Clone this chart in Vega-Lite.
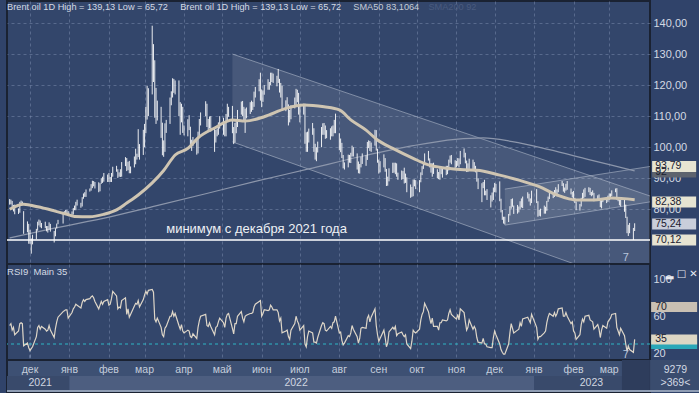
{
"$schema":"https://vega.github.io/schema/vega-lite/v6.json",
"background":"#30436a",
"padding":{"left":2,"top":0,"right":0,"bottom":0},
"spacing":0,
"bounds":"flush",
"resolve":{"scale":{"color":"independent"}},
"config":{"view":{"fill":"#33466b","stroke":"#1a2232","strokeWidth":2},"font":"Liberation Sans","text":{"font":"Liberation Sans"}},
"datasets":{
"px":[
{"t":"2021-11-15","h":83.3,"l":81.5,"r":50},{"t":"2021-11-16","h":83.1,"l":81.6,"r":52},{"t":"2021-11-17","h":82.7,"l":80.2,"r":45},{"t":"2021-11-18","h":81.4,"l":79.3,"r":48},{"t":"2021-11-19","h":81.5,"l":78.4,"r":40},
{"t":"2021-11-22","h":80.3,"l":78.5,"r":44},{"t":"2021-11-23","h":82.4,"l":78.9,"r":52},{"t":"2021-11-24","h":82.8,"l":81.3,"r":53},{"t":"2021-11-25","h":82.5,"l":81.5,"r":52},{"t":"2021-11-26","h":79.4,"l":72.1,"r":28},
{"t":"2021-11-29","h":76.1,"l":72.6,"r":31},{"t":"2021-11-30","h":75.3,"l":68.9,"r":26},{"t":"2021-12-01","h":73.4,"l":68.9,"r":23},{"t":"2021-12-02","h":70.6,"l":65.72,"r":25},{"t":"2021-12-03","h":71.8,"l":68.7,"r":27},
{"t":"2021-12-06","h":73.7,"l":70.3,"r":38},{"t":"2021-12-07","h":76.0,"l":73.1,"r":48},{"t":"2021-12-08","h":76.7,"l":74.8,"r":50},{"t":"2021-12-09","h":76.4,"l":74.2,"r":46},{"t":"2021-12-10","h":75.6,"l":73.9,"r":49},
{"t":"2021-12-13","h":76.0,"l":73.9,"r":46},{"t":"2021-12-14","h":74.6,"l":72.9,"r":44},{"t":"2021-12-15","h":74.6,"l":72.5,"r":45},{"t":"2021-12-16","h":75.8,"l":73.4,"r":50},{"t":"2021-12-17","h":75.3,"l":72.8,"r":45},
{"t":"2021-12-20","h":73.0,"l":69.3,"r":37},{"t":"2021-12-21","h":73.9,"l":71.3,"r":47},{"t":"2021-12-22","h":75.4,"l":73.8,"r":54},{"t":"2021-12-23","h":76.6,"l":75.2,"r":59},
{"t":"2021-12-27","h":78.9,"l":75.4,"r":65},{"t":"2021-12-28","h":79.4,"l":78.3,"r":66},{"t":"2021-12-29","h":79.8,"l":78.4,"r":67},{"t":"2021-12-30","h":79.8,"l":78.6,"r":67},{"t":"2021-12-31","h":79.4,"l":77.8,"r":58},
{"t":"2022-01-03","h":79.3,"l":77.7,"r":64},{"t":"2022-01-04","h":80.4,"l":78.3,"r":68},{"t":"2022-01-05","h":81.2,"l":79.7,"r":70},{"t":"2022-01-06","h":82.4,"l":79.7,"r":73},{"t":"2022-01-07","h":83.1,"l":81.2,"r":72},
{"t":"2022-01-10","h":82.1,"l":80.5,"r":69},{"t":"2022-01-11","h":83.9,"l":80.9,"r":75},{"t":"2022-01-12","h":85.1,"l":83.4,"r":78},{"t":"2022-01-13","h":85.5,"l":84.0,"r":76},{"t":"2022-01-14","h":86.4,"l":84.0,"r":78},
{"t":"2022-01-17","h":86.7,"l":85.7,"r":79},{"t":"2022-01-18","h":88.1,"l":86.0,"r":81},{"t":"2022-01-19","h":89.2,"l":86.8,"r":82},{"t":"2022-01-20","h":89.1,"l":87.4,"r":80},{"t":"2022-01-21","h":88.8,"l":86.7,"r":76},
{"t":"2022-01-24","h":88.7,"l":85.5,"r":68},{"t":"2022-01-25","h":88.4,"l":85.8,"r":72},{"t":"2022-01-26","h":90.0,"l":88.2,"r":76},{"t":"2022-01-27","h":90.5,"l":88.5,"r":73},{"t":"2022-01-28","h":91.7,"l":88.9,"r":76},
{"t":"2022-01-31","h":91.2,"l":88.8,"r":78},{"t":"2022-02-01","h":91.7,"l":88.8,"r":72},{"t":"2022-02-02","h":90.4,"l":88.8,"r":73},{"t":"2022-02-03","h":91.7,"l":88.8,"r":79},{"t":"2022-02-04","h":93.7,"l":90.5,"r":87},
{"t":"2022-02-07","h":94.0,"l":92.1,"r":82},{"t":"2022-02-08","h":92.9,"l":90.1,"r":68},{"t":"2022-02-09","h":91.9,"l":90.5,"r":70},{"t":"2022-02-10","h":92.9,"l":90.4,"r":69},{"t":"2022-02-11","h":95.2,"l":90.5,"r":77},
{"t":"2022-02-14","h":96.8,"l":93.9,"r":80},{"t":"2022-02-15","h":96.5,"l":92.3,"r":62},{"t":"2022-02-16","h":95.3,"l":92.6,"r":68},{"t":"2022-02-17","h":95.6,"l":91.6,"r":59},{"t":"2022-02-18","h":93.8,"l":91.6,"r":62},
{"t":"2022-02-21","h":97.0,"l":93.5,"r":71},{"t":"2022-02-22","h":99.5,"l":94.5,"r":74},{"t":"2022-02-23","h":97.9,"l":96.0,"r":73},{"t":"2022-02-24","h":105.8,"l":96.8,"r":77},{"t":"2022-02-25","h":101.0,"l":96.0,"r":70},
{"t":"2022-02-28","h":105.6,"l":97.5,"r":78},{"t":"2022-03-01","h":107.5,"l":100.0,"r":83},{"t":"2022-03-02","h":113.0,"l":104.5,"r":87},{"t":"2022-03-03","h":119.8,"l":108.9,"r":84},{"t":"2022-03-04","h":119.0,"l":110.0,"r":88},
{"t":"2022-03-07","h":139.13,"l":117.0,"r":89},{"t":"2022-03-08","h":133.2,"l":121.0,"r":86},{"t":"2022-03-09","h":128.0,"l":109.5,"r":57},{"t":"2022-03-10","h":119.1,"l":107.5,"r":54},{"t":"2022-03-11","h":115.0,"l":108.6,"r":58},
{"t":"2022-03-14","h":113.0,"l":103.0,"r":48},{"t":"2022-03-15","h":107.9,"l":97.4,"r":40},{"t":"2022-03-16","h":102.2,"l":96.9,"r":38},{"t":"2022-03-17","h":107.7,"l":98.5,"r":47},{"t":"2022-03-18","h":108.8,"l":104.6,"r":49},
{"t":"2022-03-21","h":116.0,"l":107.5,"r":60},{"t":"2022-03-22","h":118.0,"l":113.5,"r":60},{"t":"2022-03-23","h":122.2,"l":116.0,"r":65},{"t":"2022-03-24","h":122.0,"l":117.5,"r":60},{"t":"2022-03-25","h":121.5,"l":117.0,"r":63},
{"t":"2022-03-28","h":121.5,"l":110.0,"r":50},{"t":"2022-03-29","h":114.5,"l":104.0,"r":46},{"t":"2022-03-30","h":114.0,"l":108.0,"r":51},{"t":"2022-03-31","h":113.0,"l":104.6,"r":44},{"t":"2022-04-01","h":107.0,"l":103.8,"r":42},
{"t":"2022-04-04","h":109.0,"l":103.5,"r":45},{"t":"2022-04-05","h":110.3,"l":105.5,"r":44},{"t":"2022-04-06","h":106.6,"l":100.2,"r":38},{"t":"2022-04-07","h":102.4,"l":98.8,"r":37},{"t":"2022-04-08","h":103.3,"l":100.3,"r":41},
{"t":"2022-04-11","h":103.0,"l":97.6,"r":36},{"t":"2022-04-12","h":105.0,"l":98.0,"r":48},{"t":"2022-04-13","h":109.1,"l":103.5,"r":55},{"t":"2022-04-14","h":111.2,"l":107.0,"r":60},
{"t":"2022-04-18","h":114.8,"l":110.0,"r":62},{"t":"2022-04-19","h":114.0,"l":106.5,"r":50},{"t":"2022-04-20","h":109.1,"l":105.1,"r":49},{"t":"2022-04-21","h":109.9,"l":106.0,"r":53},{"t":"2022-04-22","h":110.0,"l":105.0,"r":49},
{"t":"2022-04-25","h":106.0,"l":98.5,"r":40},{"t":"2022-04-26","h":105.6,"l":101.5,"r":48},{"t":"2022-04-27","h":106.0,"l":103.5,"r":49},{"t":"2022-04-28","h":108.0,"l":104.0,"r":54},{"t":"2022-04-29","h":110.0,"l":106.0,"r":58},
{"t":"2022-05-02","h":109.5,"l":104.0,"r":53},{"t":"2022-05-03","h":108.0,"l":103.5,"r":48},{"t":"2022-05-04","h":110.7,"l":103.5,"r":58},{"t":"2022-05-05","h":114.0,"l":108.5,"r":62},{"t":"2022-05-06","h":113.0,"l":109.8,"r":63},
{"t":"2022-05-09","h":113.3,"l":104.5,"r":47},{"t":"2022-05-10","h":106.5,"l":101.0,"r":41},{"t":"2022-05-11","h":107.8,"l":101.5,"r":52},{"t":"2022-05-12","h":108.5,"l":104.5,"r":52},{"t":"2022-05-13","h":112.0,"l":106.5,"r":60},
{"t":"2022-05-16","h":114.7,"l":110.5,"r":65},{"t":"2022-05-17","h":114.9,"l":110.0,"r":58},{"t":"2022-05-18","h":113.0,"l":108.5,"r":54},{"t":"2022-05-19","h":112.4,"l":104.6,"r":60},{"t":"2022-05-20","h":112.8,"l":109.3,"r":61},
{"t":"2022-05-23","h":114.5,"l":110.7,"r":63},{"t":"2022-05-24","h":115.0,"l":111.4,"r":63},{"t":"2022-05-25","h":114.6,"l":112.0,"r":64},{"t":"2022-05-26","h":117.9,"l":113.0,"r":70},{"t":"2022-05-27","h":119.4,"l":116.0,"r":73},
{"t":"2022-05-30","h":121.9,"l":118.0,"r":76},{"t":"2022-05-31","h":124.0,"l":115.0,"r":77},{"t":"2022-06-01","h":118.6,"l":112.9,"r":60},{"t":"2022-06-02","h":118.3,"l":114.6,"r":63},{"t":"2022-06-03","h":120.0,"l":116.9,"r":67},
{"t":"2022-06-06","h":121.9,"l":118.5,"r":66},{"t":"2022-06-07","h":121.0,"l":118.5,"r":67},{"t":"2022-06-08","h":124.0,"l":120.0,"r":72},{"t":"2022-06-09","h":124.0,"l":121.0,"r":70},{"t":"2022-06-10","h":123.7,"l":120.7,"r":67},
{"t":"2022-06-13","h":123.0,"l":119.6,"r":67},{"t":"2022-06-14","h":125.2,"l":120.7,"r":64},{"t":"2022-06-15","h":122.0,"l":117.6,"r":55},{"t":"2022-06-16","h":120.7,"l":116.0,"r":58},{"t":"2022-06-17","h":119.8,"l":112.1,"r":42},
{"t":"2022-06-20","h":115.1,"l":111.6,"r":44},{"t":"2022-06-21","h":116.1,"l":112.8,"r":45},{"t":"2022-06-22","h":113.8,"l":107.0,"r":38},{"t":"2022-06-23","h":112.0,"l":108.0,"r":35},{"t":"2022-06-24","h":113.5,"l":109.0,"r":45},
{"t":"2022-06-27","h":116.0,"l":112.5,"r":52},{"t":"2022-06-28","h":118.8,"l":113.5,"r":60},{"t":"2022-06-29","h":118.5,"l":114.5,"r":55},{"t":"2022-06-30","h":117.5,"l":110.5,"r":52},{"t":"2022-07-01","h":113.5,"l":108.0,"r":45},
{"t":"2022-07-04","h":114.0,"l":110.5,"r":50},{"t":"2022-07-05","h":114.0,"l":101.1,"r":30},{"t":"2022-07-06","h":104.8,"l":98.5,"r":27},{"t":"2022-07-07","h":105.0,"l":98.5,"r":38},{"t":"2022-07-08","h":106.0,"l":101.5,"r":44},
{"t":"2022-07-11","h":107.8,"l":104.0,"r":42},{"t":"2022-07-12","h":106.1,"l":98.5,"r":32},{"t":"2022-07-13","h":101.1,"l":96.0,"r":32},{"t":"2022-07-14","h":100.0,"l":95.5,"r":31},{"t":"2022-07-15","h":101.8,"l":98.3,"r":37},
{"t":"2022-07-18","h":106.5,"l":100.0,"r":50},{"t":"2022-07-19","h":107.7,"l":104.0,"r":53},{"t":"2022-07-20","h":107.8,"l":104.0,"r":52},{"t":"2022-07-21","h":107.0,"l":102.7,"r":45},{"t":"2022-07-22","h":105.5,"l":102.9,"r":44},
{"t":"2022-07-25","h":106.1,"l":102.4,"r":49},{"t":"2022-07-26","h":106.7,"l":103.5,"r":47},{"t":"2022-07-27","h":107.0,"l":103.5,"r":53},{"t":"2022-07-28","h":108.8,"l":104.5,"r":54},{"t":"2022-07-29","h":110.8,"l":104.5,"r":60},
{"t":"2022-08-01","h":104.5,"l":99.0,"r":42},{"t":"2022-08-02","h":102.8,"l":98.4,"r":43},{"t":"2022-08-03","h":101.4,"l":96.5,"r":34},{"t":"2022-08-04","h":97.5,"l":93.2,"r":29},{"t":"2022-08-05","h":95.1,"l":92.8,"r":31},
{"t":"2022-08-08","h":97.6,"l":93.5,"r":39},{"t":"2022-08-09","h":97.5,"l":95.0,"r":38},{"t":"2022-08-10","h":98.2,"l":94.9,"r":42},{"t":"2022-08-11","h":100.5,"l":97.0,"r":50},{"t":"2022-08-12","h":100.0,"l":97.0,"r":46},
{"t":"2022-08-15","h":98.0,"l":92.8,"r":38},{"t":"2022-08-16","h":95.4,"l":91.6,"r":31},{"t":"2022-08-17","h":94.6,"l":91.5,"r":36},{"t":"2022-08-18","h":96.9,"l":93.5,"r":47},{"t":"2022-08-19","h":98.0,"l":94.6,"r":48},
{"t":"2022-08-22","h":97.4,"l":94.0,"r":47},{"t":"2022-08-23","h":101.7,"l":95.9,"r":58},{"t":"2022-08-24","h":102.2,"l":99.7,"r":61},{"t":"2022-08-25","h":102.0,"l":98.8,"r":54},{"t":"2022-08-26","h":101.5,"l":98.5,"r":59},
{"t":"2022-08-29","h":105.6,"l":100.5,"r":68},{"t":"2022-08-30","h":105.5,"l":98.9,"r":50},{"t":"2022-08-31","h":99.5,"l":95.0,"r":40},{"t":"2022-09-01","h":96.0,"l":91.5,"r":33},{"t":"2022-09-02","h":95.5,"l":91.9,"r":36},
{"t":"2022-09-05","h":97.7,"l":93.5,"r":45},{"t":"2022-09-06","h":96.5,"l":92.1,"r":37},{"t":"2022-09-07","h":93.0,"l":87.5,"r":27},{"t":"2022-09-08","h":90.5,"l":87.6,"r":31},{"t":"2022-09-09","h":93.2,"l":89.0,"r":43},
{"t":"2022-09-12","h":95.0,"l":91.7,"r":48},{"t":"2022-09-13","h":95.0,"l":91.8,"r":46},{"t":"2022-09-14","h":95.0,"l":91.3,"r":49},{"t":"2022-09-15","h":94.8,"l":90.5,"r":39},{"t":"2022-09-16","h":91.8,"l":89.5,"r":41},
{"t":"2022-09-19","h":92.5,"l":89.5,"r":43},{"t":"2022-09-20","h":92.3,"l":89.8,"r":40},{"t":"2022-09-21","h":93.4,"l":88.3,"r":38},{"t":"2022-09-22","h":91.5,"l":88.5,"r":40},{"t":"2022-09-23","h":90.3,"l":85.5,"r":30},
{"t":"2022-09-26","h":88.0,"l":83.7,"r":25},{"t":"2022-09-27","h":87.2,"l":84.0,"r":33},{"t":"2022-09-28","h":89.6,"l":84.2,"r":45},{"t":"2022-09-29","h":89.6,"l":87.4,"r":43},{"t":"2022-09-30","h":89.4,"l":86.5,"r":42},
{"t":"2022-10-03","h":89.4,"l":85.5,"r":46},{"t":"2022-10-04","h":91.9,"l":88.7,"r":56},{"t":"2022-10-05","h":93.9,"l":91.0,"r":62},{"t":"2022-10-06","h":94.9,"l":93.0,"r":65},{"t":"2022-10-07","h":98.0,"l":94.2,"r":74},
{"t":"2022-10-10","h":98.8,"l":95.7,"r":65},{"t":"2022-10-11","h":96.4,"l":93.5,"r":58},{"t":"2022-10-12","h":94.9,"l":91.8,"r":52},{"t":"2022-10-13","h":94.8,"l":90.5,"r":58},{"t":"2022-10-14","h":95.0,"l":91.4,"r":49},
{"t":"2022-10-17","h":92.9,"l":90.0,"r":49},{"t":"2022-10-18","h":92.0,"l":89.7,"r":45},{"t":"2022-10-19","h":93.4,"l":89.5,"r":53},{"t":"2022-10-20","h":93.2,"l":91.3,"r":53},{"t":"2022-10-21","h":93.6,"l":90.2,"r":56},
{"t":"2022-10-24","h":94.0,"l":91.0,"r":55},{"t":"2022-10-25","h":94.0,"l":91.3,"r":56},{"t":"2022-10-26","h":96.0,"l":92.5,"r":63},{"t":"2022-10-27","h":97.3,"l":95.0,"r":67},{"t":"2022-10-28","h":97.5,"l":94.5,"r":62},
{"t":"2022-10-31","h":95.8,"l":93.0,"r":58},{"t":"2022-11-01","h":95.6,"l":93.5,"r":57},{"t":"2022-11-02","h":96.5,"l":94.0,"r":62},{"t":"2022-11-03","h":96.4,"l":93.5,"r":56},{"t":"2022-11-04","h":98.8,"l":94.5,"r":68},
{"t":"2022-11-07","h":99.6,"l":96.7,"r":64},{"t":"2022-11-08","h":98.2,"l":94.8,"r":54},{"t":"2022-11-09","h":95.7,"l":92.0,"r":45},{"t":"2022-11-10","h":94.8,"l":92.0,"r":48},{"t":"2022-11-11","h":96.3,"l":93.0,"r":56},
{"t":"2022-11-14","h":96.0,"l":92.5,"r":46},{"t":"2022-11-15","h":95.2,"l":92.2,"r":49},{"t":"2022-11-16","h":94.0,"l":91.9,"r":46},{"t":"2022-11-17","h":92.9,"l":88.9,"r":37},{"t":"2022-11-18","h":90.0,"l":86.5,"r":32},
{"t":"2022-11-21","h":88.4,"l":82.3,"r":31},{"t":"2022-11-22","h":88.8,"l":86.8,"r":36},{"t":"2022-11-23","h":89.5,"l":84.5,"r":30},{"t":"2022-11-24","h":86.0,"l":84.5,"r":30},{"t":"2022-11-25","h":86.5,"l":83.0,"r":27},
{"t":"2022-11-28","h":84.5,"l":80.6,"r":26},{"t":"2022-11-29","h":85.4,"l":82.5,"r":26},{"t":"2022-11-30","h":87.0,"l":83.0,"r":37},{"t":"2022-12-01","h":88.5,"l":85.5,"r":44},{"t":"2022-12-02","h":88.2,"l":85.4,"r":40},
{"t":"2022-12-05","h":89.0,"l":82.6,"r":30},{"t":"2022-12-06","h":83.4,"l":79.0,"r":24},{"t":"2022-12-07","h":79.8,"l":76.6,"r":21},{"t":"2022-12-08","h":77.6,"l":75.4,"r":19},{"t":"2022-12-09","h":77.6,"l":75.1,"r":19},
{"t":"2022-12-12","h":78.5,"l":75.9,"r":30},{"t":"2022-12-13","h":81.0,"l":78.0,"r":42},{"t":"2022-12-14","h":83.3,"l":80.2,"r":52},{"t":"2022-12-15","h":83.5,"l":80.8,"r":47},{"t":"2022-12-16","h":81.2,"l":78.5,"r":42},
{"t":"2022-12-19","h":81.4,"l":78.6,"r":45},{"t":"2022-12-20","h":80.9,"l":79.0,"r":46},{"t":"2022-12-21","h":82.6,"l":79.9,"r":53},{"t":"2022-12-22","h":83.5,"l":80.6,"r":49},{"t":"2022-12-23","h":84.1,"l":80.4,"r":57},
{"t":"2022-12-27","h":85.5,"l":83.5,"r":59},{"t":"2022-12-28","h":85.0,"l":82.5,"r":56},{"t":"2022-12-29","h":83.5,"l":81.2,"r":53},{"t":"2022-12-30","h":86.0,"l":82.0,"r":62},
{"t":"2023-01-03","h":86.5,"l":82.0,"r":48},{"t":"2023-01-04","h":82.6,"l":77.6,"r":35},{"t":"2023-01-05","h":79.8,"l":77.9,"r":38},{"t":"2023-01-06","h":80.2,"l":77.7,"r":38},
{"t":"2023-01-09","h":81.2,"l":78.6,"r":42},{"t":"2023-01-10","h":80.8,"l":78.6,"r":44},{"t":"2023-01-11","h":82.7,"l":79.5,"r":53},{"t":"2023-01-12","h":84.1,"l":82.4,"r":59},{"t":"2023-01-13","h":85.5,"l":83.3,"r":63},
{"t":"2023-01-16","h":85.3,"l":83.6,"r":60},{"t":"2023-01-17","h":86.2,"l":84.0,"r":64},{"t":"2023-01-18","h":87.1,"l":84.8,"r":60},{"t":"2023-01-19","h":86.4,"l":84.6,"r":63},{"t":"2023-01-20","h":88.1,"l":85.5,"r":68},
{"t":"2023-01-23","h":89.1,"l":87.5,"r":69},{"t":"2023-01-24","h":88.4,"l":85.7,"r":60},{"t":"2023-01-25","h":87.0,"l":85.3,"r":60},{"t":"2023-01-26","h":88.2,"l":86.0,"r":64},{"t":"2023-01-27","h":89.1,"l":86.3,"r":60},
{"t":"2023-01-30","h":86.7,"l":84.8,"r":52},{"t":"2023-01-31","h":85.6,"l":83.8,"r":54},{"t":"2023-02-01","h":85.9,"l":82.6,"r":44},{"t":"2023-02-02","h":83.7,"l":82.0,"r":42},{"t":"2023-02-03","h":82.5,"l":79.7,"r":35},
{"t":"2023-02-06","h":81.7,"l":79.6,"r":40},{"t":"2023-02-07","h":83.7,"l":80.9,"r":51},{"t":"2023-02-08","h":85.3,"l":83.2,"r":57},{"t":"2023-02-09","h":86.4,"l":83.5,"r":54},{"t":"2023-02-10","h":86.9,"l":84.0,"r":60},
{"t":"2023-02-13","h":87.1,"l":85.5,"r":61},{"t":"2023-02-14","h":86.9,"l":84.6,"r":56},{"t":"2023-02-15","h":85.6,"l":84.2,"r":55},{"t":"2023-02-16","h":86.1,"l":84.5,"r":54},{"t":"2023-02-17","h":85.3,"l":82.6,"r":46},
{"t":"2023-02-20","h":84.5,"l":82.8,"r":51},{"t":"2023-02-21","h":84.8,"l":83.0,"r":46},{"t":"2023-02-22","h":83.4,"l":80.7,"r":37},{"t":"2023-02-23","h":82.9,"l":80.3,"r":45},{"t":"2023-02-24","h":83.5,"l":82.3,"r":50},
{"t":"2023-02-27","h":83.6,"l":82.0,"r":47},{"t":"2023-02-28","h":84.4,"l":82.4,"r":54},{"t":"2023-03-01","h":85.1,"l":83.0,"r":56},{"t":"2023-03-02","h":85.1,"l":83.3,"r":58},{"t":"2023-03-03","h":86.1,"l":84.3,"r":62},
{"t":"2023-03-06","h":86.7,"l":85.5,"r":63},{"t":"2023-03-07","h":86.8,"l":83.1,"r":48},{"t":"2023-03-08","h":83.9,"l":82.6,"r":44},{"t":"2023-03-09","h":83.0,"l":81.3,"r":40},{"t":"2023-03-10","h":83.0,"l":80.9,"r":47},
{"t":"2023-03-13","h":83.2,"l":79.2,"r":39},{"t":"2023-03-14","h":81.5,"l":77.2,"r":30},{"t":"2023-03-15","h":77.6,"l":72.3,"r":22},{"t":"2023-03-16","h":75.0,"l":71.4,"r":28},{"t":"2023-03-17","h":75.6,"l":72.3,"r":24},
{"t":"2023-03-20","h":74.0,"l":70.12,"r":21},{"t":"2023-03-21","h":75.5,"l":73.0,"r":35}
],
"s50":[
{"t":"2021-11-15","v":80.0},{"t":"2021-11-26","v":81.6},{"t":"2021-12-07","v":80.8},{"t":"2021-12-20","v":79.5},{"t":"2021-12-30","v":78.4},{"t":"2022-01-05","v":77.7},{"t":"2022-01-17","v":77.6},{"t":"2022-01-28","v":78.4},{"t":"2022-02-07","v":79.8},{"t":"2022-02-15","v":82.0},{"t":"2022-02-24","v":84.6},{"t":"2022-03-07","v":88.5},{"t":"2022-03-16","v":92.5},{"t":"2022-03-25","v":97.5},{"t":"2022-04-04","v":99.6},{"t":"2022-04-12","v":103.0},{"t":"2022-04-25","v":106.2},{"t":"2022-05-09","v":108.8},{"t":"2022-05-19","v":108.4},{"t":"2022-06-03","v":109.8},{"t":"2022-06-20","v":112.5},{"t":"2022-07-04","v":113.6},{"t":"2022-07-20","v":113.0},{"t":"2022-08-01","v":112.0},{"t":"2022-08-10","v":108.8},{"t":"2022-08-22","v":105.5},{"t":"2022-08-31","v":102.3},{"t":"2022-09-12","v":99.6},{"t":"2022-09-28","v":96.4},{"t":"2022-10-10","v":94.3},{"t":"2022-10-25","v":93.2},{"t":"2022-11-07","v":92.7},{"t":"2022-11-17","v":92.6},{"t":"2022-12-05","v":91.0},{"t":"2022-12-20","v":89.4},{"t":"2023-01-05","v":87.3},{"t":"2023-01-19","v":84.6},{"t":"2023-02-03","v":83.0},{"t":"2023-02-17","v":83.0},{"t":"2023-03-03","v":83.6},{"t":"2023-03-21","v":83.1}
],
"s200":[
{"t":"2021-11-15","v":70.8},{"t":"2021-12-21","v":74.0},{"t":"2022-02-01","v":77.5},{"t":"2022-03-09","v":81.0},{"t":"2022-04-18","v":85.0},{"t":"2022-05-27","v":89.0},{"t":"2022-07-08","v":93.0},{"t":"2022-08-18","v":97.0},{"t":"2022-09-28","v":100.5},{"t":"2022-10-31","v":102.5},{"t":"2022-11-22","v":103.0},{"t":"2022-12-15","v":101.8},{"t":"2023-01-13","v":99.2},{"t":"2023-02-13","v":96.0},{"t":"2023-03-13","v":93.2},{"t":"2023-03-21","v":92.4}
],
"desc":[{"t":"2022-05-09","u":130.0,"lo":101.7},{"t":"2023-04-02","u":84.3,"lo":53.7}],
"asc":[{"t":"2022-12-09","u":86.5,"lo":74.9},{"t":"2023-04-02","u":93.79,"lo":82.38}],
"ptags":[{"p":92,"s":"92"},{"p":93.79,"s":"93,79"},{"p":82.38,"s":"82,38"},{"p":75.24,"s":"75,24"},{"p":70.12,"s":"70,12"}],
"rtags":[{"v":30,"s":"30"},{"v":70,"s":"70"},{"v":35,"s":"35"}],
"months":[{"t":"2021-12-01","m":"дек"},{"t":"2022-01-01","m":"янв"},{"t":"2022-02-01","m":"фев"},{"t":"2022-03-01","m":"мар"},{"t":"2022-04-01","m":"апр"},{"t":"2022-05-01","m":"май"},{"t":"2022-06-01","m":"июн"},{"t":"2022-07-01","m":"июл"},{"t":"2022-08-01","m":"авг"},{"t":"2022-09-01","m":"сен"},{"t":"2022-10-01","m":"окт"},{"t":"2022-11-01","m":"ноя"},{"t":"2022-12-01","m":"дек"},{"t":"2023-01-01","m":"янв"},{"t":"2023-02-01","m":"фев"},{"t":"2023-03-01","m":"мар"}],
"years":[{"a":"2021-11-01","b":"2022-01-01","s":"2021","m":"2021-12-09"},{"a":"2022-01-01","b":"2023-01-01","s":"2022","m":"2022-06-28"},{"a":"2023-01-01","b":"2023-03-11","s":"2023","m":"2023-02-15"}]
},
"vconcat":[
{"width":643,"height":263,
"layer":[
{"data":{"name":"desc"},"mark":{"type":"area","color":"#ffffff","opacity":0.1,"clip":true},
"encoding":{"x":{"field":"t","type":"temporal","title":null,"scale":{"type":"utc","domain":[{"year":2021,"month":11,"date":12,"hours":22,"minutes":20,"utc":true},{"year":2023,"month":4,"date":2,"hours":1,"utc":true}],"nice":false},
"axis":{"values":[{"year":2021,"month":12,"date":1,"utc":true},{"year":2022,"month":1,"date":1,"utc":true},{"year":2022,"month":2,"date":1,"utc":true},{"year":2022,"month":3,"date":1,"utc":true},{"year":2022,"month":4,"date":1,"utc":true},{"year":2022,"month":5,"date":1,"utc":true},{"year":2022,"month":6,"date":1,"utc":true},{"year":2022,"month":7,"date":1,"utc":true},{"year":2022,"month":8,"date":1,"utc":true},{"year":2022,"month":9,"date":1,"utc":true},{"year":2022,"month":10,"date":1,"utc":true},{"year":2022,"month":11,"date":1,"utc":true},{"year":2022,"month":12,"date":1,"utc":true},{"year":2023,"month":1,"date":1,"utc":true},{"year":2023,"month":2,"date":1,"utc":true},{"year":2023,"month":3,"date":1,"utc":true}],"grid":true,"gridColor":"#7d8eb0","gridOpacity":0.5,"gridDash":[3,3],"labels":false,"ticks":false,"domain":false,"title":null}},
"y":{"field":"lo","type":"quantitative","title":null,"scale":{"domain":[62.38,147.09],"nice":false,"zero":false},
"axis":{"orient":"right","values":[80,90,100,110,120,130,140],"labelExpr":"replace(format(datum.value,'.2f'),'.',',')","grid":true,"gridColor":"#7d8eb0","gridOpacity":0.5,"gridDash":[3,3],"ticks":false,"domain":false,"labelColor":"#d3d9e3","labelFontSize":11,"labelFont":"Liberation Sans","labelPadding":3,"title":null}},
"y2":{"field":"u"}}},
{"data":{"name":"asc"},"mark":{"type":"area","color":"#ffffff","opacity":0.1,"clip":true},
"encoding":{"x":{"field":"t","type":"temporal","title":null},"y":{"field":"lo","type":"quantitative","title":null},"y2":{"field":"u"}}},
{"data":{"name":"desc"},"transform":[{"fold":["u","lo"]}],"mark":{"type":"line","color":"#c5cddc","opacity":0.5,"strokeWidth":1,"clip":true},
"encoding":{"x":{"field":"t","type":"temporal","title":null},"y":{"field":"value","type":"quantitative","title":null},"detail":{"field":"key"}}},
{"data":{"name":"asc"},"transform":[{"fold":["u","lo"]}],"mark":{"type":"line","color":"#c5cddc","opacity":0.5,"strokeWidth":1,"clip":true},
"encoding":{"x":{"field":"t","type":"temporal","title":null},"y":{"field":"value","type":"quantitative","title":null},"detail":{"field":"key"}}},
{"data":{"name":"s200"},"mark":{"type":"line","color":"#8c96ab","strokeWidth":1.2,"interpolate":"monotone","clip":true},
"encoding":{"x":{"field":"t","type":"temporal","title":null},"y":{"field":"v","type":"quantitative","title":null}}},
{"data":{"name":"px"},"mark":{"type":"rule","color":"#ffffff","strokeWidth":0.9},
"encoding":{"x":{"field":"t","type":"temporal","title":null},"y":{"field":"l","type":"quantitative","title":null},"y2":{"field":"h"}}},
{"data":{"name":"s50"},"mark":{"type":"line","color":"#cfc5b2","strokeWidth":3,"interpolate":"monotone"},
"encoding":{"x":{"field":"t","type":"temporal","title":null},"y":{"field":"v","type":"quantitative","title":null}}},
{"data":{"values":[{}]},"mark":{"type":"rule","color":"#ffffff","strokeWidth":1.5},
"encoding":{"y":{"datum":70.12,"type":"quantitative","title":null}}},
{"data":{"values":[{}]},"mark":{"type":"text","align":"left","baseline":"middle","fontSize":9.2,"color":"#d5dbe5"},
"encoding":{"x":{"datum":{"year":2021,"month":11,"date":13,"utc":true},"type":"temporal","title":null},"y":{"datum":145.15,"type":"quantitative","title":null},"text":{"value":"Brent oil 1D High = 139,13 Low = 65,72"}}},
{"data":{"values":[{}]},"mark":{"type":"text","align":"left","baseline":"middle","fontSize":9.2,"color":"#d5dbe5"},
"encoding":{"x":{"datum":{"year":2022,"month":3,"date":29,"utc":true},"type":"temporal","title":null},"y":{"datum":145.15,"type":"quantitative","title":null},"text":{"value":"Brent oil 1D High = 139,13 Low = 65,72"}}},
{"data":{"values":[{}]},"mark":{"type":"text","align":"left","baseline":"middle","fontSize":9.2,"color":"#c6ccd6"},
"encoding":{"x":{"datum":{"year":2022,"month":8,"date":12,"utc":true},"type":"temporal","title":null},"y":{"datum":145.15,"type":"quantitative","title":null},"text":{"value":"SMA50 83,1064"}}},
{"data":{"values":[{}]},"mark":{"type":"text","align":"left","baseline":"middle","fontSize":9.2,"color":"#4a5b7f"},
"encoding":{"x":{"datum":{"year":2022,"month":10,"date":10,"utc":true},"type":"temporal","title":null},"y":{"datum":145.15,"type":"quantitative","title":null},"text":{"value":"SMA200 92"}}},
{"data":{"values":[{}]},"mark":{"type":"text","align":"left","baseline":"middle","fontSize":13,"color":"#eef1f5"},
"encoding":{"x":{"datum":{"year":2022,"month":3,"date":18,"utc":true},"type":"temporal","title":null},"y":{"datum":73.65,"type":"quantitative","title":null},"text":{"value":"минимум с декабря 2021 года"}}},
{"data":{"values":[{}]},"mark":{"type":"text","align":"center","baseline":"middle","fontSize":11,"color":"#b9c6dc"},
"encoding":{"x":{"datum":{"year":2023,"month":3,"date":14,"utc":true},"type":"temporal","title":null},"y":{"datum":64.3,"type":"quantitative","title":null},"text":{"value":"7"}}},
{"data":{"name":"ptags"},"mark":{"type":"tick","orient":"horizontal","thickness":11,"size":44,"opacity":1},
"encoding":{"x":{"datum":{"year":2023,"month":4,"date":21,"utc":true},"type":"temporal","title":null},"y":{"field":"p","type":"quantitative","title":null},
"color":{"field":"s","type":"nominal","legend":null,"scale":{"domain":["92","93,79","82,38","75,24","70,12"],"range":["#5d636e","#e6e4d2","#e6e4d2","#c9ceda","#e6e4d2"]}}}},
{"data":{"name":"ptags"},"mark":{"type":"text","align":"left","baseline":"middle","dx":-19,"fontSize":10.5,"color":"#1b2030"},
"encoding":{"x":{"datum":{"year":2023,"month":4,"date":21,"utc":true},"type":"temporal","title":null},"y":{"field":"p","type":"quantitative","title":null},"text":{"field":"s"}}}
]},
{"width":643,"height":96,
"layer":[
{"data":{"values":[{"g":50},{"g":70},{"g":90}]},"mark":{"type":"rule","color":"#7d8eb0","opacity":0.5,"strokeDash":[3,3],"strokeWidth":1},
"encoding":{"x":{"datum":{"year":2021,"month":12,"date":1,"utc":true},"type":"temporal","title":null,"scale":{"type":"utc","domain":[{"year":2021,"month":11,"date":12,"hours":22,"minutes":20,"utc":true},{"year":2023,"month":4,"date":2,"hours":1,"utc":true}],"nice":false},
"axis":{"values":[{"year":2021,"month":12,"date":1,"utc":true},{"year":2022,"month":1,"date":1,"utc":true},{"year":2022,"month":2,"date":1,"utc":true},{"year":2022,"month":3,"date":1,"utc":true},{"year":2022,"month":4,"date":1,"utc":true},{"year":2022,"month":5,"date":1,"utc":true},{"year":2022,"month":6,"date":1,"utc":true},{"year":2022,"month":7,"date":1,"utc":true},{"year":2022,"month":8,"date":1,"utc":true},{"year":2022,"month":9,"date":1,"utc":true},{"year":2022,"month":10,"date":1,"utc":true},{"year":2022,"month":11,"date":1,"utc":true},{"year":2022,"month":12,"date":1,"utc":true},{"year":2023,"month":1,"date":1,"utc":true},{"year":2023,"month":2,"date":1,"utc":true},{"year":2023,"month":3,"date":1,"utc":true}],"grid":true,"gridColor":"#7d8eb0","gridOpacity":0.5,"gridDash":[3,3],"labels":false,"ticks":false,"domain":false,"title":null}},
"x2":null,
"y":{"field":"g","type":"quantitative","title":null,"scale":{"domain":[12.7,116.5],"nice":false,"zero":false},
"axis":{"orient":"right","values":[20,40,60,80,100],"grid":false,"ticks":false,"domain":false,"labelColor":"#d3d9e3","labelFontSize":11,"labelFont":"Liberation Sans","labelPadding":3,"title":null}}}},
{"data":{"values":[{}]},"mark":{"type":"rule","color":"#2fb5c6","strokeDash":[3,3],"strokeWidth":1},
"encoding":{"y":{"datum":30,"type":"quantitative","title":null}}},
{"data":{"name":"px"},"mark":{"type":"line","color":"#ded6c8","strokeWidth":1.2},
"encoding":{"x":{"field":"t","type":"temporal","title":null},"y":{"field":"r","type":"quantitative","title":null}}},
{"data":{"values":[{}]},"mark":{"type":"text","align":"left","baseline":"middle","fontSize":9.5,"color":"#d5dbe5"},
"encoding":{"x":{"datum":{"year":2021,"month":11,"date":13,"utc":true},"type":"temporal","title":null},"y":{"datum":107.8,"type":"quantitative","title":null},"text":{"value":"RSI9\u00a0 Main 35"}}},
{"data":{"values":[{}]},"mark":{"type":"text","align":"center","baseline":"middle","fontSize":11,"color":"#b9c6dc"},
"encoding":{"x":{"datum":{"year":2023,"month":3,"date":14,"utc":true},"type":"temporal","title":null},"y":{"datum":18,"type":"quantitative","title":null},"text":{"value":"7"}}},
{"data":{"name":"rtags"},"mark":{"type":"tick","orient":"horizontal","thickness":10,"size":46,"opacity":1},
"encoding":{"x":{"datum":{"year":2023,"month":4,"date":21,"utc":true},"type":"temporal","title":null},"y":{"field":"v","type":"quantitative","title":null},
"color":{"field":"s","type":"nominal","legend":null,"scale":{"domain":["30","70","35"],"range":["#2aa7b8","#c9c0b3","#dcd6c4"]}}}},
{"data":{"name":"rtags"},"transform":[{"filter":"datum.v != 30"}],"mark":{"type":"text","align":"left","baseline":"middle","dx":-19,"fontSize":10.5,"color":"#1b2030"},
"encoding":{"x":{"datum":{"year":2023,"month":4,"date":21,"utc":true},"type":"temporal","title":null},"y":{"field":"v","type":"quantitative","title":null},"text":{"field":"s"}}},
{"data":{"values":[{}]},"mark":{"type":"text","align":"center","baseline":"middle","fontSize":10,"font":"DejaVu Sans","color":"#e6eaf0"},
"encoding":{"x":{"datum":{"year":2023,"month":4,"date":27,"utc":true},"type":"temporal","title":null},"y":{"datum":105.7,"type":"quantitative","title":null},"text":{"value":"▂ □ ✕"}}}
]},
{"width":643,"height":32,"view":{"fill":"#3d5073"},
"layer":[
{"data":{"name":"years"},"mark":{"type":"rect","clip":true},
"encoding":{"x":{"field":"a","type":"temporal","title":null,"axis":null,"scale":{"type":"utc","domain":[{"year":2021,"month":11,"date":12,"hours":22,"minutes":20,"utc":true},{"year":2023,"month":4,"date":2,"hours":1,"utc":true}],"nice":false}},"x2":{"field":"b"},
"y":{"datum":0.0625,"type":"quantitative","title":null,"axis":null,"scale":{"domain":[0,1],"nice":false,"zero":false}},"y2":{"datum":0.5},
"color":{"field":"s","type":"nominal","legend":null,"scale":{"domain":["2021","2022","2023"],"range":["#394a6b","#4d5e80","#394a6b"]}}}},
{"data":{"values":[{}]},"mark":{"type":"rect","color":"#2e3d5c"},
"encoding":{"x":{"datum":{"year":2023,"month":3,"date":11,"utc":true},"type":"temporal","title":null},"x2":{"datum":{"year":2023,"month":4,"date":2,"utc":true}},"y":{"datum":0.0625,"type":"quantitative","title":null},"y2":{"datum":1}}},
{"data":{"values":[{}]},"mark":{"type":"rect","color":"#3a4c6e"},
"encoding":{"x":{"datum":{"year":2023,"month":4,"date":2,"hours":2,"utc":true},"type":"temporal","title":null},"x2":{"datum":{"year":2023,"month":5,"date":13,"utc":true}},"y":{"datum":0.0625,"type":"quantitative","title":null},"y2":{"datum":1}}},
{"data":{"values":[{}]},"mark":{"type":"rect","color":"#8f9db4"},
"encoding":{"x":{"datum":{"year":2021,"month":11,"date":12,"hours":22,"minutes":20,"utc":true},"type":"temporal","title":null},"x2":{"datum":{"year":2023,"month":5,"date":13,"utc":true}},"y":{"datum":0,"type":"quantitative","title":null},"y2":{"datum":0.0625}}},
{"data":{"name":"months"},"mark":{"type":"text","align":"center","baseline":"middle","fontSize":10.5,"color":"#c4cddb"},
"encoding":{"x":{"field":"t","type":"temporal","title":null},"y":{"datum":0.6875,"type":"quantitative","title":null},"text":{"field":"m"}}},
{"data":{"name":"years"},"mark":{"type":"text","align":"center","baseline":"middle","fontSize":10.5,"color":"#d0d6e0"},
"encoding":{"x":{"field":"m","type":"temporal","title":null},"y":{"datum":0.266,"type":"quantitative","title":null},"text":{"field":"s"}}},
{"data":{"values":[{}]},"mark":{"type":"text","align":"center","baseline":"middle","fontSize":10.5,"color":"#d3d9e3"},
"encoding":{"x":{"datum":{"year":2023,"month":4,"date":22,"utc":true},"type":"temporal","title":null},"y":{"datum":0.6875,"type":"quantitative","title":null},"text":{"value":"9279"}}},
{"data":{"values":[{}]},"mark":{"type":"text","align":"center","baseline":"middle","fontSize":10.5,"color":"#d3d9e3"},
"encoding":{"x":{"datum":{"year":2023,"month":4,"date":22,"utc":true},"type":"temporal","title":null},"y":{"datum":0.266,"type":"quantitative","title":null},"text":{"value":">369<"}}}
]}
]
}
